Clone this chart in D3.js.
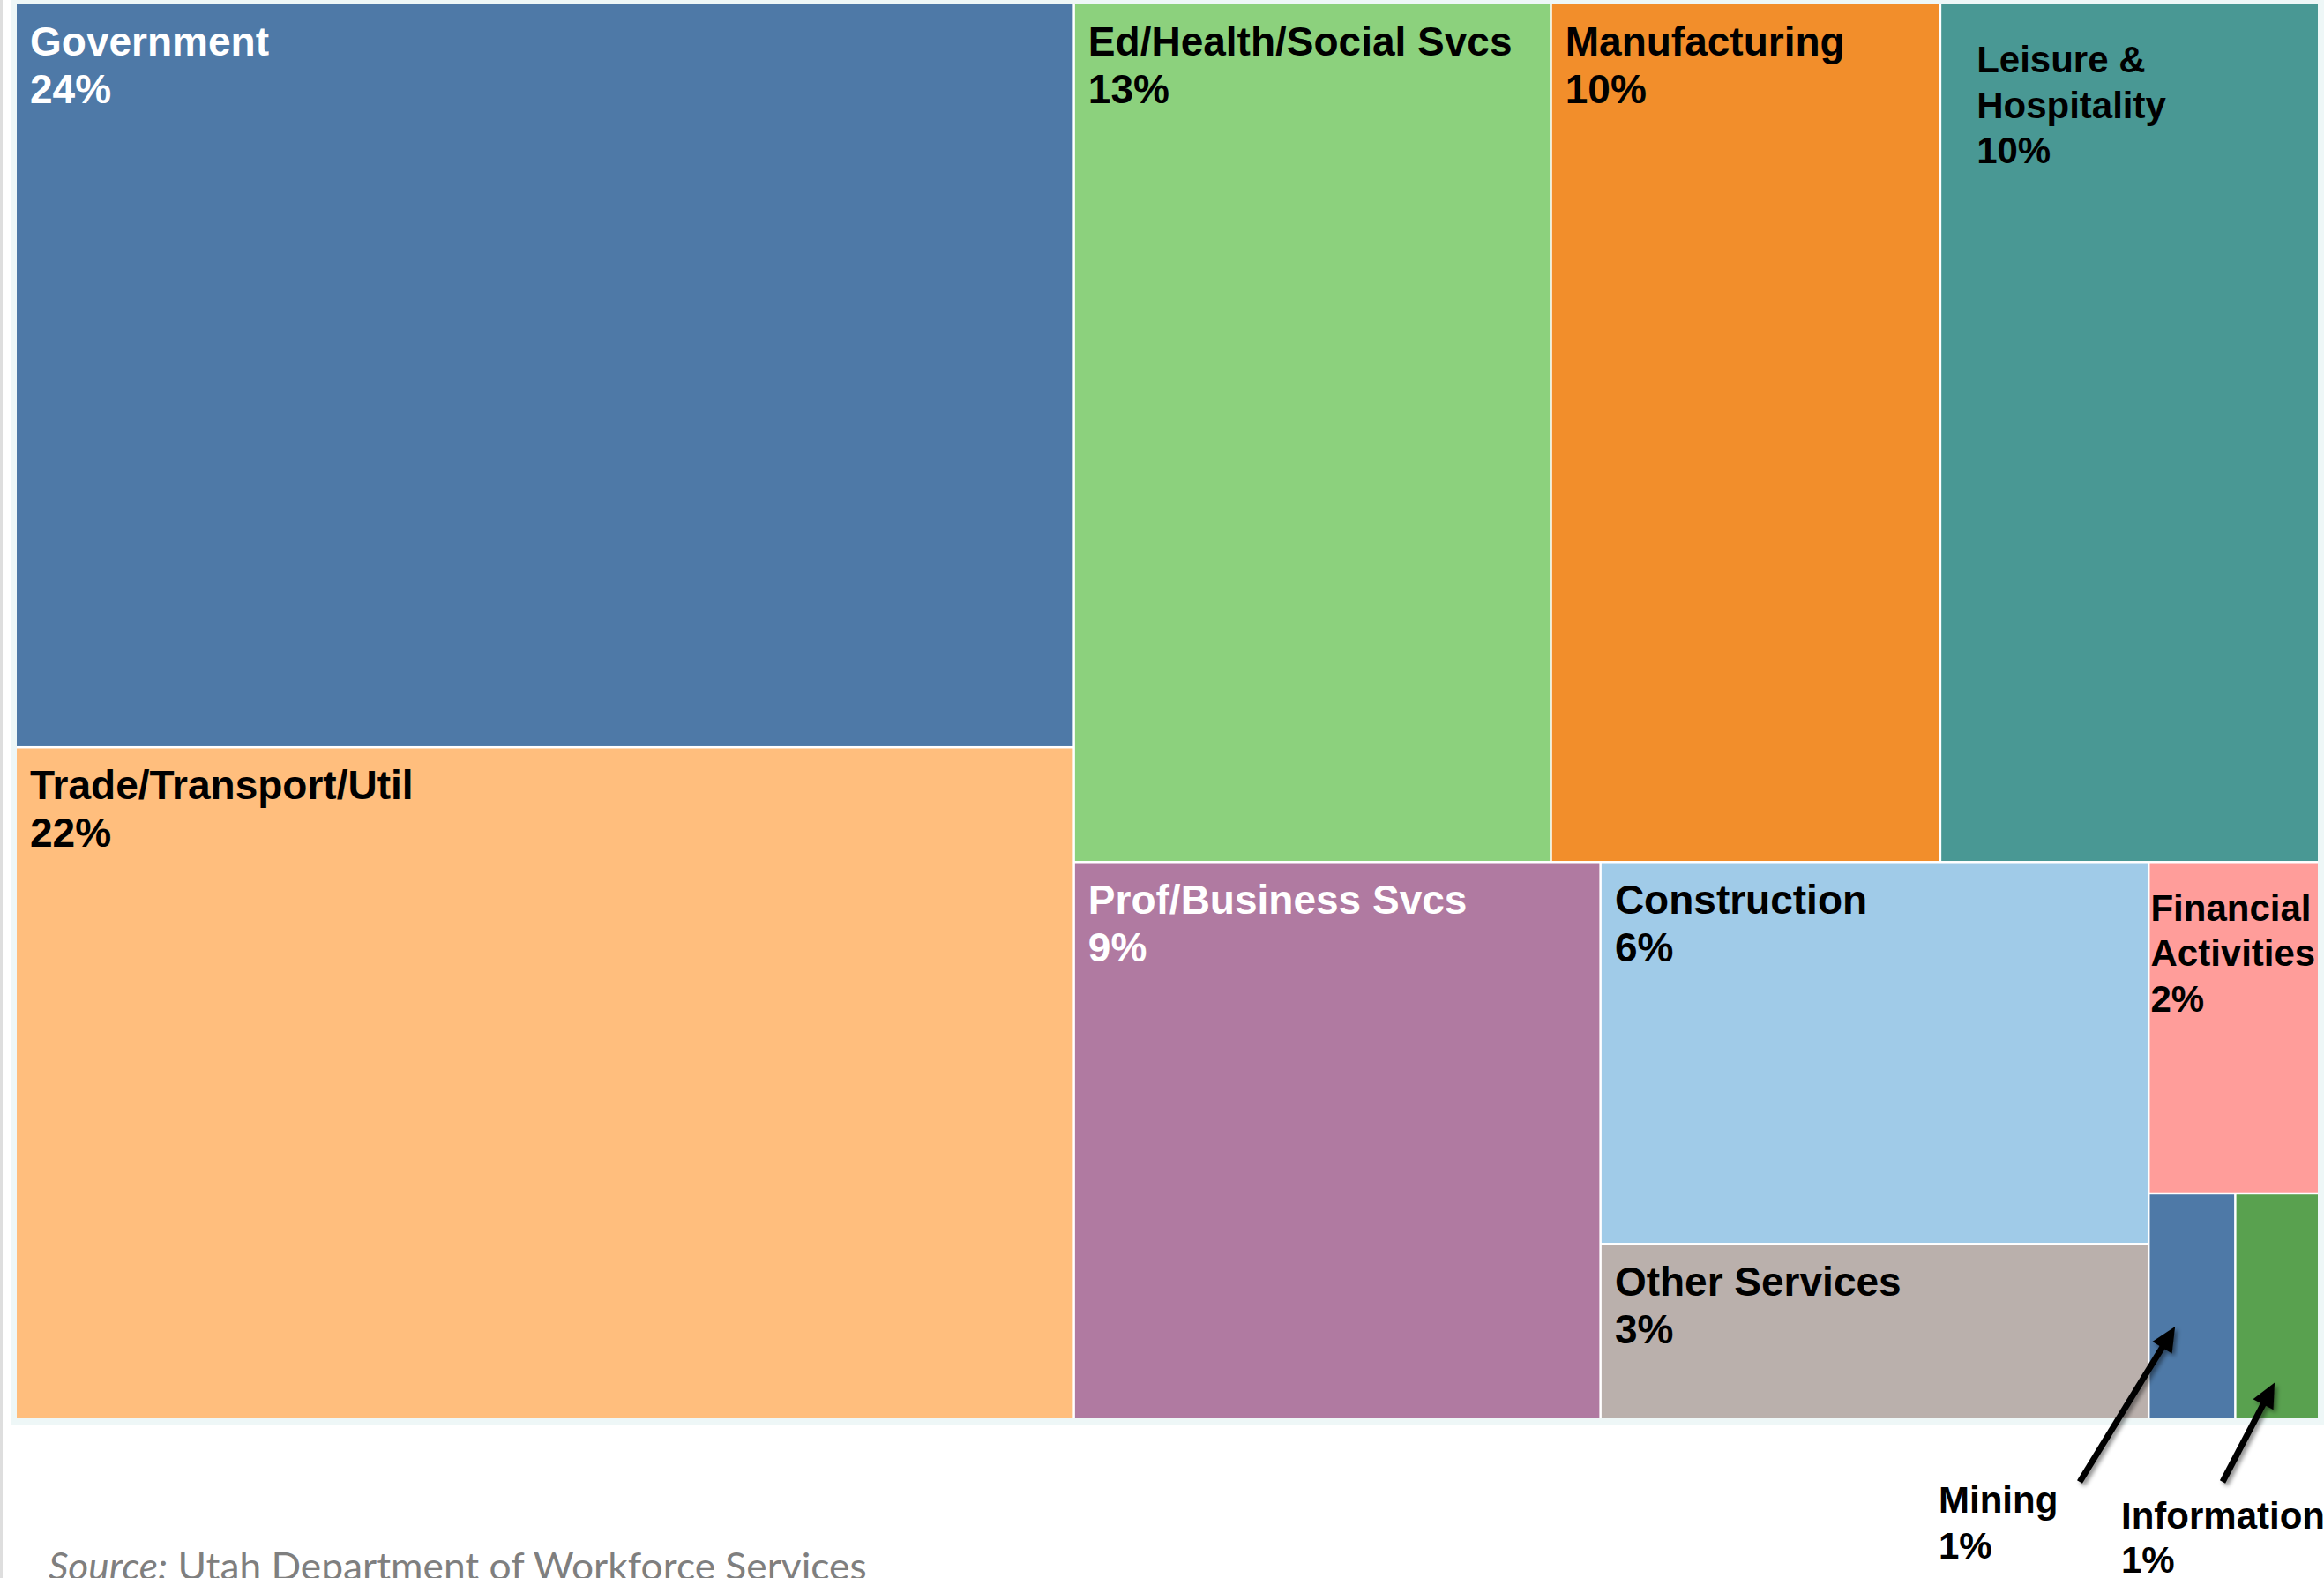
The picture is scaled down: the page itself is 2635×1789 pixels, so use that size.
<!DOCTYPE html>
<html><head><meta charset="utf-8">
<script src="https://cdn.jsdelivr.net/npm/d3@7"></script>
<style>html,body{margin:0;padding:0;background:#fff;overflow:hidden}</style>
</head><body><svg id="chart" width="2635" height="1789"></svg>
<script>
// ---- data ----
const sectors = ["Government","Trade/Transport/Util","Ed/Health/Social Svcs","Manufacturing","Leisure & Hospitality","Prof/Business Svcs","Construction","Other Services","Financial Activities","Mining","Information"];
const shares  = [24.14, 21.81, 12.56, 10.25, 9.97, 9.00, 6.42, 2.95, 1.73, 0.60, 0.58];
const colors  = ["#4e79a7","#ffbe7d","#8cd17d","#f28e2b","#499894","#b07aa1","#a0cbe8","#bab0ac","#ff9d9a","#4e79a7","#59a14f"];
const sourceText = ["Source:", " Utah Department of Workforce Services"];

// ---- styles ----
const W = 2635, H = 1789;
const box = {x0: 19, y0: 5, x1: 2628, y1: 1608};
const baseLabel = {size: 46, dx: 15, dy: 57.5, lh: 54, sx: 1, fill: "#000", inside: true};
const labelStyle = {
  "Government": {fill: "#fff"},
  "Leisure & Hospitality": {size: 42, dx: 40, dy: 77, lh: 51.5, lines: ["Leisure &", "Hospitality"]},
  "Prof/Business Svcs": {fill: "#fff"},
  "Financial Activities": {size: 42, dx: 1, dy: 65, lh: 51.5, lines: ["Financial", "Activities"]},
  "Mining": {inside: false, size: 42, lh: 52, ax: 2198, ay: 1715, tail: [2358, 1680], tip: [0.30, 0.59]},
  "Information": {inside: false, size: 42, lh: 50, ax: 2405, ay: 1733, tail: [2520, 1680], tip: [0.47, 0.84]}
};

const svg = d3.select("#chart");
svg.append("rect").attr("width", W).attr("height", H).attr("fill", "#fff");
svg.append("rect").attr("x", 0).attr("y", 0).attr("width", 3).attr("height", H).attr("fill", "#dedede");
// pale frame
svg.append("rect").attr("x", 13).attr("y", -10).attr("width", W - 13 + 10).attr("height", 1615 + 10).attr("fill", "#eef7f7");
svg.append("rect").attr("x", box.x0).attr("y", box.y0).attr("width", box.x1 - box.x0).attr("height", box.y1 - box.y0).attr("fill", "#fff");

const data = sectors.map((s, i) => ({name: s, value: shares[i], color: colors[i]}));
const root = d3.hierarchy({children: data}).sum(d => d.value || 0);
d3.treemap().tile(d3.treemapSquarify).size([box.x1 - box.x0, box.y1 - box.y0]).paddingInner(2.5)(root);

const g = svg.append("g").attr("transform", `translate(${box.x0},${box.y0})`);
const cells = g.selectAll("g.cell").data(root.leaves()).join("g").attr("class", "cell");
cells.append("rect")
  .attr("x", d => d.x0).attr("y", d => d.y0)
  .attr("width", d => d.x1 - d.x0).attr("height", d => d.y1 - d.y0)
  .attr("fill", d => d.data.color);

const fmt = v => Math.round(v) + "%";
function styleOf(name) { return Object.assign({}, baseLabel, labelStyle[name] || {}); }

cells.each(function(d) {
  const st = styleOf(d.data.name);
  if (!st.inside) return;
  const lines = (st.lines || [d.data.name]).concat([fmt(d.data.value)]);
  const t = d3.select(this).append("text")
    .attr("transform", `translate(${d.x0 + st.dx},${d.y0 + st.dy}) scale(${st.sx},1)`)
    .attr("font-family", "'Liberation Sans', Arial, Helvetica, sans-serif")
    .attr("font-weight", "bold").attr("font-size", st.size).attr("fill", st.fill);
  lines.forEach((l, i) => t.append("tspan").attr("x", 0).attr("y", i * st.lh).text(l));
});

// ---- outside labels with arrows ----
const defs = svg.append("defs");
const f = defs.append("filter").attr("id", "shadow").attr("x", "-50%").attr("y", "-50%").attr("width", "200%").attr("height", "200%");
f.append("feDropShadow").attr("dx", 3).attr("dy", 3).attr("stdDeviation", 2.5).attr("flood-color", "#000").attr("flood-opacity", 0.45);

root.leaves().forEach(d => {
  const st = styleOf(d.data.name);
  if (st.inside) return;
  const tipX = box.x0 + d.x0 + st.tip[0] * (d.x1 - d.x0);
  const tipY = box.y0 + d.y0 + st.tip[1] * (d.y1 - d.y0);
  const [tx, ty] = st.tail;
  const len = Math.hypot(tipX - tx, tipY - ty);
  const ux = (tipX - tx) / len, uy = (tipY - ty) / len;
  const headLen = 28, halfW = 13;
  const bx = tipX - ux * headLen, by = tipY - uy * headLen;
  const ag = svg.append("g").attr("filter", "url(#shadow)");
  ag.append("line").attr("x1", tx).attr("y1", ty).attr("x2", bx + ux * 4).attr("y2", by + uy * 4)
    .attr("stroke", "#000").attr("stroke-width", 7);
  ag.append("path").attr("d", `M${tipX},${tipY}L${bx - uy * halfW},${by + ux * halfW}L${bx + uy * halfW},${by - ux * halfW}Z`).attr("fill", "#000");
  const t = svg.append("text")
    .attr("font-family", "'Liberation Sans', Arial, Helvetica, sans-serif")
    .attr("font-weight", "bold").attr("font-size", st.size).attr("fill", "#000");
  [d.data.name, fmt(d.data.value)].forEach((l, i) => t.append("tspan").attr("x", st.ax).attr("y", st.ay + i * st.lh).text(l));
});

// ---- source ----
const src = svg.append("text").attr("font-family", "Lato, 'Open Sans', sans-serif")
  .attr("font-size", 42).attr("fill", "#7f7f7f");
src.append("tspan").attr("font-style", "italic").text(sourceText[0]);
src.append("tspan").text(sourceText[1]);
const wNat = src.node().getComputedTextLength();
const sxs = 928 / wNat;
src.attr("transform", `translate(55,1791) scale(${sxs},1)`);
</script></body></html>
